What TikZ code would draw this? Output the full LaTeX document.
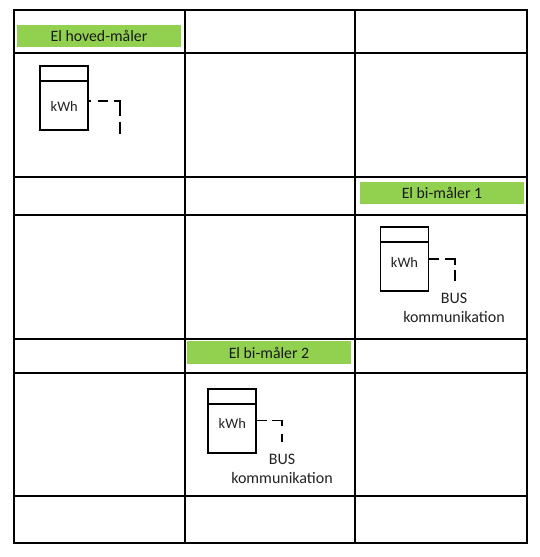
\documentclass[tikz,border=0pt]{standalone}
\usepackage{fontspec}
\setmainfont{Carlito}
\definecolor{bargreen}{HTML}{92D050}
\definecolor{ink}{HTML}{222222}
\tikzset{
  x=1pt,y=-1pt,
  gridline/.style={line width=2pt,black},
  bar/.style={fill=bargreen,draw=none,minimum width=164pt,minimum height=22.5pt,inner sep=0pt,font=\fontsize{15.8}{18}\selectfont,text=black!90},
  meter/.style={draw=black,line width=1.8pt,minimum width=48pt,minimum height=64pt,inner sep=0pt},
  meterlabel/.style={font=\fontsize{14.5}{16}\selectfont,text=ink,inner sep=0pt},
  busline/.style={line width=1.1pt,black},
  buslabel/.style={font=\fontsize{16}{19}\selectfont,text=ink,align=center,inner sep=0pt},
}
\newcommand{\metersym}[4]{% name, centre x, top y, label offset
  \node[meter] (#1) at (#2,#3+32) {};
  \draw[line width=1.8pt] ([yshift=-16pt]#1.north west) -- ([yshift=-16pt]#1.north east);
  \node[meterlabel] (#1l) at (#2,#3+#4) {kWh};
}
\begin{document}
\begin{tikzpicture}
\useasboundingbox (0,0) rectangle (540,557);
\fill[white] (0,0) rectangle (540,557);
\foreach \yy in {10,53,177,215,339,373,496,543} \draw[gridline] (13,\yy) -- (528,\yy);
\foreach \xx in {14,185,355,527} \draw[gridline] (\xx,9) -- (\xx,544);
\node[bar] (b1) at (99,36.2) {El hoved-måler};
\node[bar] (b2) at (442,193.2) {El bi-måler 1};
\node[bar] (b3) at (269,352.5) {El bi-måler 2};
\metersym{m1}{64.3}{66}{40}
\metersym{m2}{404.5}{227}{35}
\metersym{m3}{232.3}{389}{34.5}
\coordinate (e1) at (120,134);
\coordinate (e2) at (455,281);
\coordinate (e3) at (282,442);
\draw[busline,dash pattern=on 1.5pt off 7pt on 10pt off 6pt on 21pt off 6pt on 20pt] (m1.east |- 0,101) -| (e1);
\draw[busline,dash pattern=on 10pt off 6pt on 16pt off 5pt on 20pt] (m2.east |- 0,259) -| (e2);
\draw[busline,dash pattern=on 10pt off 5pt on 15pt off 8pt on 20pt] (m3.east |- 0,420.5) -| (e3);
\node[buslabel] (t2) at (454,307.5) {BUS\\kommunikation};
\node[buslabel] (t3) at (282,469) {BUS\\kommunikation};
\end{tikzpicture}
\end{document}
